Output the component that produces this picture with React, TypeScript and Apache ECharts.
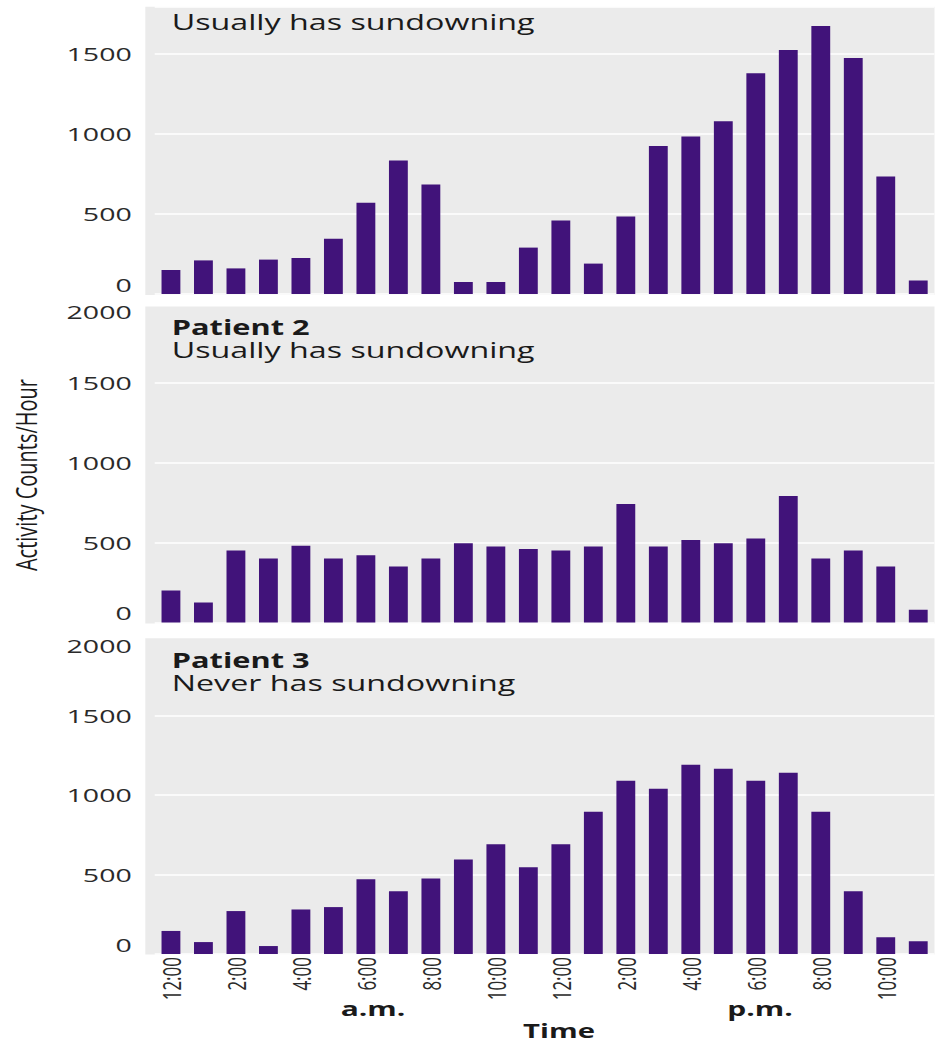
import React, { useEffect, useRef } from "react";
import * as echarts from "echarts";

// ---- data ----
const hours = [
  "12:00 a.m.", "1:00 a.m.", "2:00 a.m.", "3:00 a.m.", "4:00 a.m.", "5:00 a.m.",
  "6:00 a.m.", "7:00 a.m.", "8:00 a.m.", "9:00 a.m.", "10:00 a.m.", "11:00 a.m.",
  "12:00 p.m.", "1:00 p.m.", "2:00 p.m.", "3:00 p.m.", "4:00 p.m.", "5:00 p.m.",
  "6:00 p.m.", "7:00 p.m.", "8:00 p.m.", "9:00 p.m.", "10:00 p.m.", "11:00 p.m.",
];
const patient1 = [150, 210, 160, 215, 225, 345, 570, 835, 685, 75, 75, 290, 460, 190, 485, 925, 985, 1080, 1380, 1525, 1675, 1475, 735, 85];
const patient2 = [200, 125, 450, 400, 480, 400, 420, 350, 400, 495, 475, 460, 450, 475, 740, 475, 515, 495, 525, 790, 400, 450, 350, 80];
const patient3 = [145, 75, 270, 50, 280, 295, 470, 395, 475, 595, 690, 545, 690, 895, 1090, 1040, 1190, 1165, 1090, 1140, 895, 395, 105, 80];
const panelTitles = ["", "Patient 2", "Patient 3"];
const panelSubtitles = ["Usually has sundowning", "Usually has sundowning", "Never has sundowning"];
const yTitle = "Activity Counts/Hour";
const xTitle = "Time";
const amLabel = "a.m.";
const pmLabel = "p.m.";

// ---- layout ----
const S = 1.5; // horizontal stretch of the reference
const W = 935 / S;
const H = 1042;
const FONT = "'Open Sans', sans-serif";
const BAR = "#41137a";
const BG = "#ebebeb";
const GRID_LEFT = 154.7 / S;
const PANEL_LEFT = 145.3 / S;

const grids = [
  { top: 294 - 287.2, height: 287.2, max: 1795, bgTop: 6.7, bgBottom: 295, textTop: 22.2 },
  { top: 302.5, height: 320, max: 2000, bgTop: 306.5, bgBottom: 623.5, textTop: 327.3 },
  { top: 636, height: 318, max: 2000, bgTop: 638.3, bgBottom: 954.5, textTop: 660 },
];

function buildOption() {
  const seriesData = [patient1, patient2, patient3];
  const grid = grids.map((g) => ({
    left: GRID_LEFT,
    right: 0,
    top: g.top,
    height: g.height,
  }));
  const xAxis = grids.map((g, i) => ({
    type: "category",
    gridIndex: i,
    data: hours,
    boundaryGap: true,
    axisLine: { show: false },
    axisTick: { show: false },
    axisLabel:
      i === 2
        ? {
            show: true,
            interval: 1,
            rotate: 90,
            margin: 3,
            fontFamily: FONT,
            fontSize: 17,
            color: "#2a2a2a",
            formatter: (v: string) => v.split(" ")[0],
          }
        : { show: false },
  }));
  const yAxis = grids.map((g, i) => ({
    type: "value",
    gridIndex: i,
    min: 0,
    max: g.max,
    interval: 500,
    axisLine: { show: false },
    axisTick: { show: false },
    axisLabel: {
      margin: 15.3,
      fontFamily: FONT,
      fontSize: 19,
      color: "#2a2a2a",
      verticalAlignMinLabel: "bottom",
      verticalAlignMaxLabel: "top",
      formatter: (v: number) => (v % 500 === 0 ? String(v) : ""),
    },
    splitLine: { show: true, lineStyle: { color: "#ffffff", width: 1.6 } },
  }));
  const series = seriesData.map((d, i) => ({
    type: "bar",
    xAxisIndex: i,
    yAxisIndex: i,
    data: d,
    barWidth: "58%",
    itemStyle: { color: BAR },
  }));

  const textEls: any[] = grids.map((g, i) => {
    const hasTitle = panelTitles[i] !== "";
    const text = hasTitle
      ? `{b|${panelTitles[i]}}\n{n|${panelSubtitles[i]}}`
      : `{n|${panelSubtitles[i]}}`;
    return {
      type: "text",
      x: 171.7 / S,
      y: g.textTop - 11.35,
      style: {
        text,
        fontFamily: FONT,
        fill: "#1a1a1a",
        align: "left",
        verticalAlign: "top",
        rich: {
          b: { fontFamily: FONT, fontSize: 20.5, fontWeight: "bold", lineHeight: 22.7, fill: "#1a1a1a" },
          n: { fontFamily: FONT, fontSize: 21.5, fontWeight: "normal", lineHeight: 22.7, fill: "#1a1a1a" },
        },
      },
    };
  });

  const bgRects = grids.map((g) => ({
    type: "rect",
    z: -10,
    shape: { x: PANEL_LEFT, y: g.bgTop, width: W - PANEL_LEFT, height: g.bgBottom - g.bgTop },
    style: { fill: BG },
    silent: true,
  }));

  const axisTexts = [
    {
      type: "text",
      x: 25 / S,
      y: 475,
      rotation: Math.PI / 2,
      style: {
        text: yTitle,
        fontFamily: FONT,
        fontSize: 20,
        fill: "#1a1a1a",
        align: "center",
        verticalAlign: "middle",
      },
    },
    {
      type: "text",
      x: 373 / S,
      y: 1008,
      style: { text: amLabel, fontFamily: FONT, fontSize: 20, fontWeight: "bold", fill: "#1a1a1a", align: "center", verticalAlign: "middle" },
    },
    {
      type: "text",
      x: 760 / S,
      y: 1008,
      style: { text: pmLabel, fontFamily: FONT, fontSize: 20, fontWeight: "bold", fill: "#1a1a1a", align: "center", verticalAlign: "middle" },
    },
    {
      type: "text",
      x: 559 / S,
      y: 1030,
      style: { text: xTitle, fontFamily: FONT, fontSize: 19.5, fontWeight: "bold", fill: "#1a1a1a", align: "center", verticalAlign: "middle" },
    },
  ];

  return {
    animation: false,
    backgroundColor: "#ffffff",
    grid,
    xAxis,
    yAxis,
    series,
    graphic: [...bgRects, ...textEls, ...axisTexts],
  };
}

export default function App() {
  const ref = useRef<HTMLDivElement>(null);
  useEffect(() => {
    if (!ref.current) return;
    const chart = echarts.init(ref.current, null, { renderer: "svg" });
    chart.setOption(buildOption() as any);
    return () => chart.dispose();
  }, []);
  return (
    <div
      ref={ref}
      style={{
        position: "absolute",
        left: 0,
        top: 0,
        width: W,
        height: H,
        transform: `scaleX(${S})`,
        transformOrigin: "0 0",
      }}
    />
  );
}
